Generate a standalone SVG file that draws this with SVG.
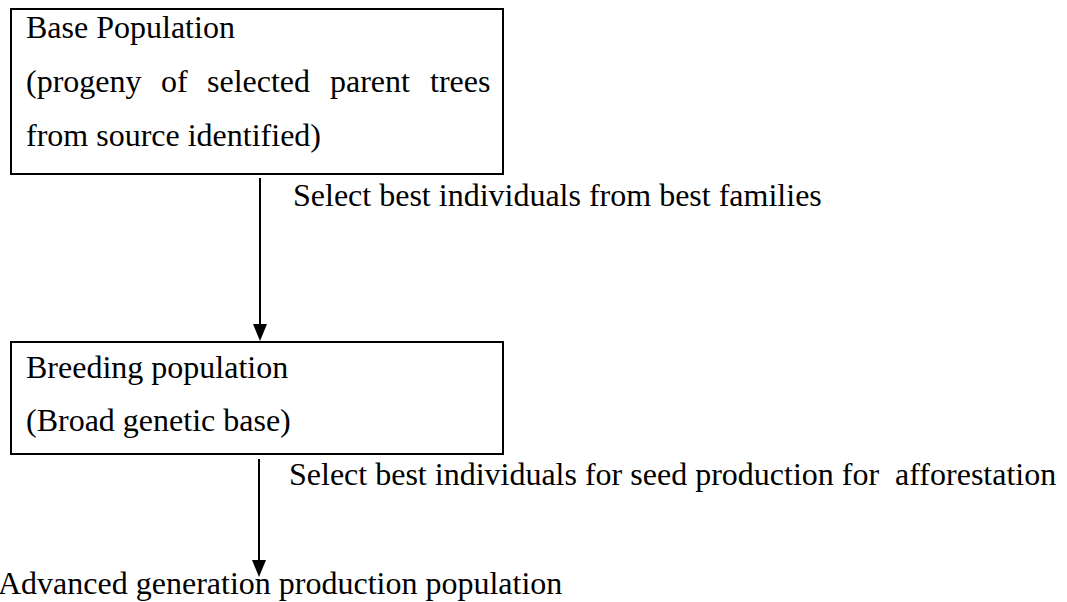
<svg xmlns="http://www.w3.org/2000/svg" width="1067" height="602" viewBox="0 0 1067 602">
<style>
  .box { fill: #ffffff; stroke: #000000; stroke-width: 2; }
  .t { font-family: "Liberation Serif", "Times New Roman", serif; font-size: 32px; fill: #000000; }
  .conn { stroke: #000000; stroke-width: 2; fill: none; marker-end: url(#arrow); }
</style>
<defs>
  <marker id="arrow" viewBox="0 0 17 14" refX="5" refY="7" markerWidth="17" markerHeight="14" markerUnits="userSpaceOnUse" orient="auto">
    <path d="M0,0 L17,7 L0,14 z" fill="#000000"/>
  </marker>
</defs>
<rect width="1067" height="602" fill="#ffffff"/>
<g id="node-base">
  <rect class="box" x="11" y="9" width="492" height="165"/>
  <text class="t" x="26" y="38">Base Population</text>
  <text class="t" y="92"><tspan x="26">(progeny</tspan><tspan x="161">of</tspan><tspan x="207">selected</tspan><tspan x="330">parent</tspan><tspan x="430">trees</tspan></text>
  <text class="t" x="26" y="146">from source identified)</text>
</g>
<g id="node-breeding">
  <rect class="box" x="11" y="342" width="492" height="112"/>
  <text class="t" x="26" y="378">Breeding population</text>
  <text class="t" x="26" y="431">(Broad genetic base)</text>
</g>
<g id="node-advanced">
  <text class="t" x="-2" y="594">Advanced generation production population</text>
</g>
<g id="connectors">
  <line class="conn" x1="260" y1="178" x2="260" y2="329"/>
  <text class="t" x="293" y="206">Select best individuals from best families</text>
  <line class="conn" x1="259" y1="459" x2="259" y2="565"/>
  <text class="t" x="289" y="485" xml:space="preserve">Select best individuals for seed production for  afforestation</text>
</g>
</svg>
